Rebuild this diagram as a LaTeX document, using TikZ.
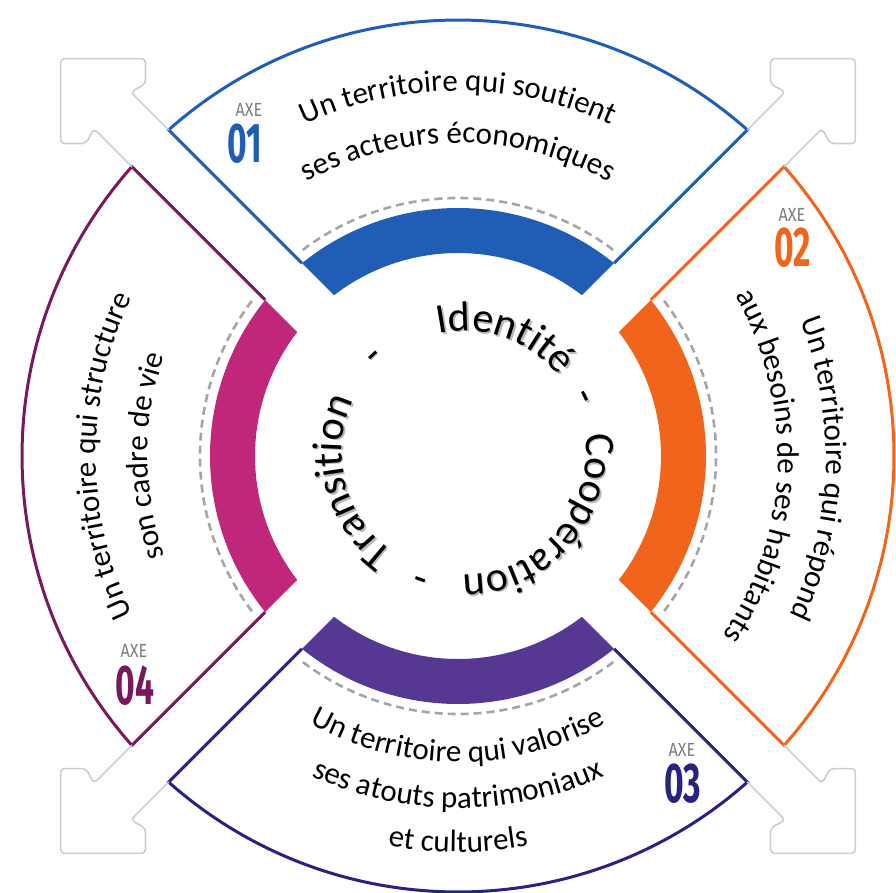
\documentclass[tikz,border=0pt]{standalone}
\usepackage{fontspec}
\setmainfont{Carlito}
\newfontfamily\tagfont[FakeStretch=0.85]{Fira Sans}
\newfontfamily\numfont[FakeStretch=0.6]{Fira Sans}
\usetikzlibrary{decorations.text}

\definecolor{axeblue}{RGB}{31,94,180}
\definecolor{axeorange}{RGB}{240,100,28}
\definecolor{axeviolet}{RGB}{86,56,146}
\definecolor{axenavy}{RGB}{40,34,128}
\definecolor{axemagenta}{RGB}{192,38,122}
\definecolor{axeplum}{RGB}{122,24,94}
\definecolor{dashgray}{RGB}{165,165,165}
\definecolor{arrowgray}{RGB}{200,205,216}
\definecolor{taggray}{RGB}{125,125,125}

\newcommand{\sectfont}{\fontsize{31}{31}\selectfont}
\newcommand{\ringfont}{\fontsize{42}{42}\selectfont}

\newcommand{\arcline}[4]{%
\path[decorate, decoration={text along path, text align=center, text={|\sectfont|#4}}]
  (#2:#1) arc[start angle=#2, end angle=#3, radius=#1];}
% mot de l'anneau central : angle, texte, decalage, couleur
\newcommand{\ringword}[4]{%
\path[decorate, decoration={text along path, text align=center, text={|\color{#4}\ringfont|#2}}]
  ([shift={#3}]{#1+60}:122) arc[start angle={#1+60}, end angle={#1-60}, radius=122];}

\tikzset{
  rim/.style={draw=#1, line width=3pt},
  dashring/.style={draw=dashgray, line width=2.6pt, dash pattern=on 8pt off 5pt},
  arrowline/.style={draw=arrowgray, line width=1.6pt, rounded corners=4pt},
  axetag/.style={font=\tagfont\fontsize{19}{19}\selectfont, text=taggray, inner sep=0pt},
  axenum/.style={font=\numfont\bfseries\fontsize{56}{56}\selectfont, inner sep=0pt},
}

\begin{document}
\begin{tikzpicture}[x=1pt, y=1pt]
\useasboundingbox (-458,-436) rectangle (438,456);

% les quatre axes
\foreach \rot/\bandcol/\rimcol in {0/axeblue/axeblue, -90/axeorange/axeorange, 180/axeviolet/axenavy, 90/axemagenta/axeplum}
{
\begin{scope}[rotate=\rot]
\fill[\bandcol] (52.36:203) -- (51.02:248) arc[start angle=51.02, end angle=128.98, radius=248] -- (127.64:203) arc[start angle=127.64, end angle=52.36, radius=203] -- cycle;
\draw[rim=\rimcol] (51.02:248) -- (48.42:436) arc[start angle=48.42, end angle=131.58, radius=436] -- (128.98:248);
\draw[dashring] (127:258) arc[start angle=127, end angle=53, radius=258];
\end{scope}
}

% fleches
\foreach \a in {45, 135, 225, 315}
{
\begin{scope}[rotate=\a]
\draw[arrowline] (435,26) -- (489,26) -- (484,42) -- (502,60) -- (562,0) -- (502,-60) -- (484,-42) -- (489,-26) -- (435,-26);
\end{scope}
}

% textes des axes
\arcline{365}{150}{30}{Un territoire qui soutient}
\arcline{313}{150}{30}{ses acteurs économiques}

\arcline{368}{58}{-62}{Un territoire qui répond}
\arcline{320}{58}{-62}{aux besoins de ses habitants}

\arcline{306}{210}{330}{Un territoire qui valorise}
\arcline{352}{210}{330}{ses atouts patrimoniaux}
\arcline{396}{210}{330}{et culturels}

\arcline{362}{240}{120}{Un territoire qui structure}
\arcline{310}{240}{120}{son cadre de vie}

% anneau central, ombre puis texte
\foreach \dx/\dy/\col in {7.5/1.5/black!28, 6/3/black}
{
\ringword{70.5}{Identité}{(\dx,\dy)}{\col}
\ringword{25}{-}{(\dx,\dy)}{\col}
\ringword{-41}{Coopération}{(\dx,\dy)}{\col}
\ringword{-109}{-}{(\dx,\dy)}{\col}
\ringword{-165.5}{Transition}{(\dx,\dy)}{\col}
\ringword{133}{-}{(\dx,\dy)}{\col}
}

\node[axetag] (tag1) at (-209,346) {AXE};
\node[axenum, text=axeblue] (num1) at (-213,312) {01};
\node[axetag] (tag2) at (334,241) {AXE};
\node[axenum, text=axeorange] (num2) at (335,208) {02};
\node[axetag] (tag3) at (224,-294) {AXE};
\node[axenum, text=axenavy] (num3) at (225,-328) {03};
\node[axetag] (tag4) at (-324,-195) {AXE};
\node[axenum, text=axeplum] (num4) at (-323,-230) {04};
\end{tikzpicture}
\end{document}
